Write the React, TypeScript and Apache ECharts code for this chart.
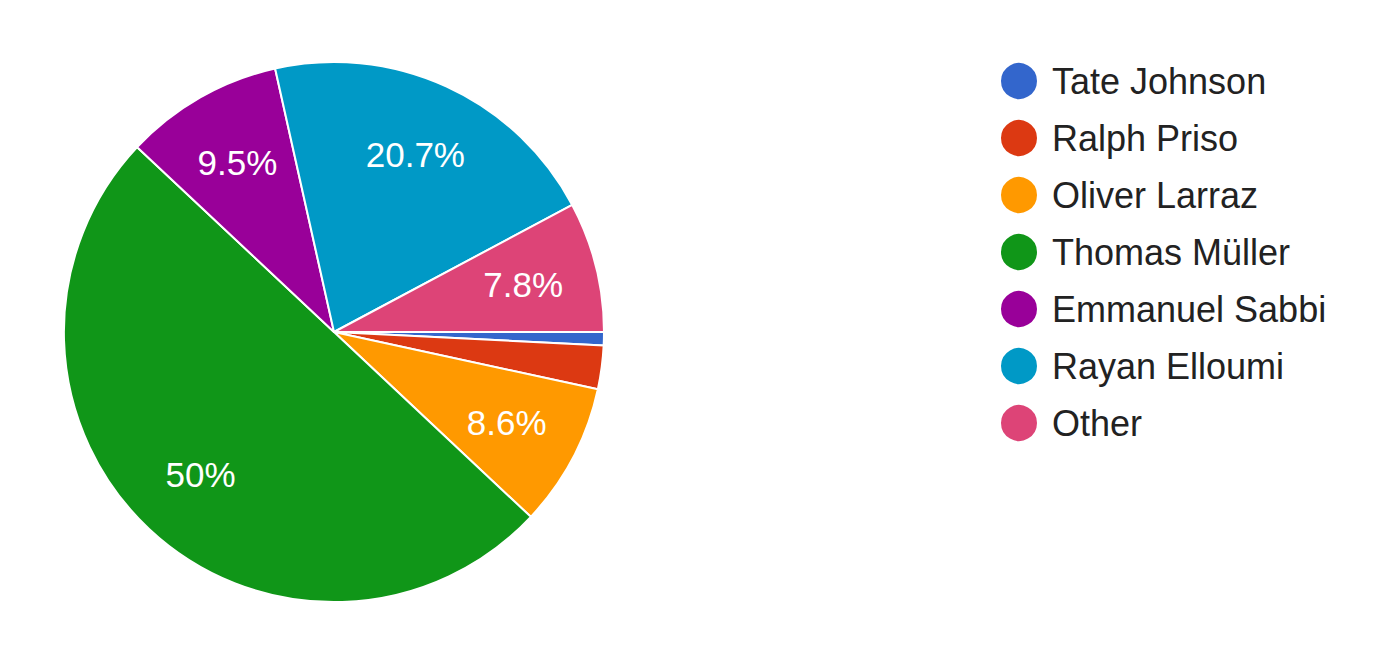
import React, { useEffect, useRef } from "react";
import * as echarts from "echarts";

const names = [
  "Tate Johnson",
  "Ralph Priso",
  "Oliver Larraz",
  "Thomas Müller",
  "Emmanuel Sabbi",
  "Rayan Elloumi",
  "Other",
];
const values = [0.8, 2.6, 8.6, 50, 9.5, 20.7, 7.8];
const colors = ["#3366cc", "#dc3912", "#ff9900", "#109618", "#990099", "#0099c6", "#dd4477"];
const labelled = [false, false, true, true, true, true, true];

const FONT = "'Liberation Sans', Arial, sans-serif";

export default function App() {
  const ref = useRef<HTMLDivElement>(null);
  useEffect(() => {
    if (!ref.current) return;
    const chart = echarts.init(ref.current, undefined, { renderer: "svg" });
    const data = names.map((n, i) => ({
      name: n,
      value: values[i],
      itemStyle: { color: colors[i] },
    }));
    chart.setOption({
      animation: false,
      legend: {
        orient: "vertical",
        left: 999,
        top: 61,
        padding: 0,
        icon: "circle",
        itemWidth: 38,
        itemHeight: 38,
        itemGap: 17,
        data: names,
        textStyle: { fontSize: 36, color: "#222222", fontFamily: FONT, padding: [0, 0, 0, 9] },
      },
      series: [
        {
          type: "pie",
          center: [334, 332],
          radius: [0, 270],
          startAngle: 0,
          clockwise: true,
          label: { show: false },
          labelLine: { show: false },
          itemStyle: { borderColor: "#ffffff", borderWidth: 2 },
          emphasis: { disabled: true },
          data,
        },
        {
          type: "pie",
          silent: true,
          center: [334, 332],
          radius: [114, 270],
          startAngle: 0,
          clockwise: true,
          itemStyle: { color: "rgba(0,0,0,0)", borderWidth: 0 },
          labelLine: { show: false },
          emphasis: { disabled: true },
          label: {
            show: true,
            position: "inside",
            color: "#ffffff",
            fontSize: 35,
            fontFamily: FONT,
            textBorderWidth: 0,
            formatter: (p: any) => `${p.value}%`,
          },
          data: names.map((n, i) => ({
            name: n,
            value: values[i],
            label: { show: labelled[i] },
          })),
        },
      ],
    });
    return () => chart.dispose();
  }, []);
  return (
    <div
      ref={ref}
      style={{ position: "fixed", left: 0, top: 0, width: 1387, height: 657, background: "#ffffff" }}
    />
  );
}
